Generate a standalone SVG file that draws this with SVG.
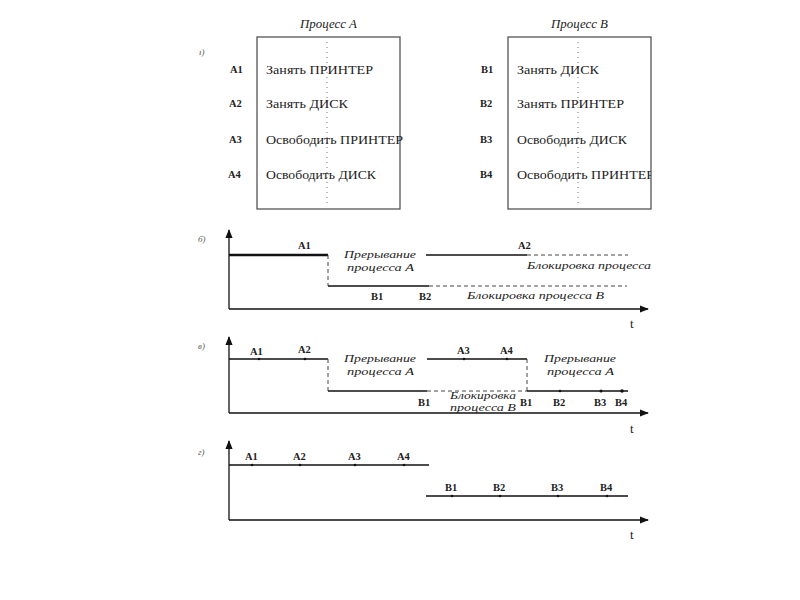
<svg xmlns="http://www.w3.org/2000/svg" width="800" height="600" viewBox="0 0 800 600">
<defs>
<marker id="ar" viewBox="0 0 10 10" refX="9" refY="5" markerWidth="7" markerHeight="7" orient="auto"><path d="M0,1 L10,5 L0,9 z" fill="#111"/></marker>
<style>
text{font-family:"Liberation Serif","DejaVu Serif",serif;fill:#222}
.lb{font-size:10.5px;font-weight:bold}
.tx{font-size:13px}
.it{font-size:10.5px;font-style:italic}
.its{font-size:9.5px;font-style:italic}
.ttl{font-size:12px;font-style:italic}
.frag{font-size:9px;font-style:italic;fill:#555}
.box{fill:#fff;stroke:#555;stroke-width:1.3}
.dot{stroke:#777;stroke-width:1;stroke-dasharray:1,4}
.ax{stroke:#111;stroke-width:1.3;fill:none}
.ln{stroke:#111;stroke-width:1.6;fill:none}
.th{stroke:#111;stroke-width:2.6;fill:none}
.ds{stroke:#444;stroke-width:1;stroke-dasharray:4,3;fill:none}
.pt{fill:#111}
</style>
</defs>
<rect width="800" height="600" fill="#fff"/>

<g id="frags">
<text class="frag" x="199" y="55">ı)</text>
<text class="frag" x="198" y="242">б)</text>
<text class="frag" x="198" y="349">в)</text>
<text class="frag" x="198" y="455">г)</text>
</g>

<g id="processA">
<text class="ttl" x="300" y="28" textLength="57" lengthAdjust="spacingAndGlyphs">Процесс А</text>
<rect class="box" x="257" y="37" width="143" height="172"/>
<line class="dot" x1="327" y1="42" x2="327" y2="206"/>
<text class="lb" x="230" y="73">А1</text>
<text class="lb" x="229" y="107">А2</text>
<text class="lb" x="229" y="143">А3</text>
<text class="lb" x="228" y="178">А4</text>
<text class="tx" x="266" y="74" textLength="107" lengthAdjust="spacingAndGlyphs">Занять ПРИНТЕР</text>
<text class="tx" x="266" y="108" textLength="82" lengthAdjust="spacingAndGlyphs">Занять ДИСК</text>
<text class="tx" x="266" y="144" textLength="137" lengthAdjust="spacingAndGlyphs">Освободить ПРИНТЕР</text>
<text class="tx" x="266" y="179" textLength="110" lengthAdjust="spacingAndGlyphs">Освободить ДИСК</text>
</g>

<g id="processB">
<text class="ttl" x="551" y="28" textLength="57" lengthAdjust="spacingAndGlyphs">Процесс В</text>
<rect class="box" x="508" y="37" width="143" height="172"/>
<line class="dot" x1="578" y1="42" x2="578" y2="206"/>
<text class="lb" x="481" y="73">В1</text>
<text class="lb" x="480" y="107">В2</text>
<text class="lb" x="480" y="143">В3</text>
<text class="lb" x="480" y="178">В4</text>
<text class="tx" x="517" y="74" textLength="82" lengthAdjust="spacingAndGlyphs">Занять ДИСК</text>
<text class="tx" x="517" y="108" textLength="107" lengthAdjust="spacingAndGlyphs">Занять ПРИНТЕР</text>
<text class="tx" x="517" y="144" textLength="110" lengthAdjust="spacingAndGlyphs">Освободить ДИСК</text>
<svg x="508" y="160" width="143" height="30" overflow="hidden"><text class="tx" x="9" y="19" textLength="137" lengthAdjust="spacingAndGlyphs">Освободить ПРИНТЕР</text></svg>
</g>

<g id="chartB">
<line class="ax" x1="229" y1="309" x2="229" y2="230" marker-end="url(#ar)"/>
<line class="ax" x1="229" y1="309" x2="648" y2="309" marker-end="url(#ar)"/>
<line class="th" x1="229" y1="255" x2="328" y2="255"/>
<line class="ds" x1="328" y1="255" x2="328" y2="286"/>
<line class="ln" x1="328" y1="286" x2="429" y2="286"/>
<line class="ds" x1="429" y1="286" x2="627" y2="286"/>
<line class="ln" x1="426" y1="255" x2="527" y2="255"/>
<line class="ds" x1="527" y1="255" x2="628" y2="255"/>
<text class="lb" x="298" y="249">А1</text>
<text class="lb" x="518" y="249">А2</text>
<text class="lb" x="371" y="300">В1</text>
<text class="lb" x="419" y="300">В2</text>
<text class="it" x="344" y="258" textLength="72" lengthAdjust="spacingAndGlyphs">Прерывание</text>
<text class="it" x="347" y="271" textLength="67" lengthAdjust="spacingAndGlyphs">процесса А</text>
<text class="it" x="527" y="269" textLength="124" lengthAdjust="spacingAndGlyphs">Блокировка процесса</text>
<text class="it" x="467" y="299" textLength="137" lengthAdjust="spacingAndGlyphs">Блокировка процесса В</text>
<text class="tx" x="630" y="328">t</text>
</g>

<g id="chartC">
<line class="ax" x1="229" y1="413" x2="229" y2="337" marker-end="url(#ar)"/>
<line class="ax" x1="229" y1="413" x2="648" y2="413" marker-end="url(#ar)"/>
<line class="ln" x1="229" y1="359" x2="328" y2="359"/>
<line class="ds" x1="328" y1="359" x2="328" y2="391"/>
<line class="ln" x1="328" y1="391" x2="427" y2="391"/>
<line class="ds" x1="427" y1="391" x2="527" y2="391"/>
<line class="ln" x1="427" y1="359" x2="527" y2="359"/>
<line class="ds" x1="527" y1="359" x2="527" y2="391"/>
<line class="ln" x1="527" y1="391" x2="628" y2="391"/>
<circle class="pt" cx="259" cy="359" r="1.3"/>
<circle class="pt" cx="305" cy="359" r="1.3"/>
<circle class="pt" cx="464" cy="359" r="1.3"/>
<circle class="pt" cx="507" cy="359" r="1.3"/>
<circle class="pt" cx="560" cy="391" r="1.3"/>
<circle class="pt" cx="601" cy="391" r="1.5"/>
<circle class="pt" cx="622" cy="391" r="1.8"/>
<text class="lb" x="250" y="355">А1</text>
<text class="lb" x="298" y="353">А2</text>
<text class="lb" x="457" y="354">А3</text>
<text class="lb" x="500" y="354">А4</text>
<text class="lb" x="418" y="406">В1</text>
<text class="lb" x="520" y="406">В1</text>
<text class="lb" x="553" y="406">В2</text>
<text class="lb" x="594" y="406">В3</text>
<text class="lb" x="615" y="406">В4</text>
<text class="it" x="344" y="362" textLength="72" lengthAdjust="spacingAndGlyphs">Прерывание</text>
<text class="it" x="347" y="375" textLength="67" lengthAdjust="spacingAndGlyphs">процесса А</text>
<text class="it" x="544" y="362" textLength="72" lengthAdjust="spacingAndGlyphs">Прерывание</text>
<text class="it" x="547" y="375" textLength="67" lengthAdjust="spacingAndGlyphs">процесса А</text>
<text class="its" x="450" y="399" textLength="66" lengthAdjust="spacingAndGlyphs">Блокировка</text>
<text class="its" x="450" y="411" textLength="66" lengthAdjust="spacingAndGlyphs">процесса В</text>
<text class="tx" x="630" y="433">t</text>
</g>

<g id="chartD">
<line class="ax" x1="229" y1="520" x2="229" y2="441" marker-end="url(#ar)"/>
<line class="ax" x1="229" y1="520" x2="648" y2="520" marker-end="url(#ar)"/>
<line class="ln" x1="229" y1="465" x2="429" y2="465"/>
<line class="ln" x1="426" y1="496" x2="628" y2="496"/>
<circle class="pt" cx="252" cy="465" r="1.3"/>
<circle class="pt" cx="300" cy="465" r="1.3"/>
<circle class="pt" cx="355" cy="465" r="1.3"/>
<circle class="pt" cx="404" cy="465" r="1.3"/>
<circle class="pt" cx="452" cy="496" r="1.3"/>
<circle class="pt" cx="500" cy="496" r="1.3"/>
<circle class="pt" cx="558" cy="496" r="1.3"/>
<circle class="pt" cx="607" cy="496" r="1.3"/>
<text class="lb" x="245" y="460">А1</text>
<text class="lb" x="293" y="460">А2</text>
<text class="lb" x="348" y="460">А3</text>
<text class="lb" x="397" y="460">А4</text>
<text class="lb" x="445" y="491">В1</text>
<text class="lb" x="493" y="491">В2</text>
<text class="lb" x="551" y="491">В3</text>
<text class="lb" x="600" y="491">В4</text>
<text class="tx" x="630" y="539">t</text>
</g>
</svg>
